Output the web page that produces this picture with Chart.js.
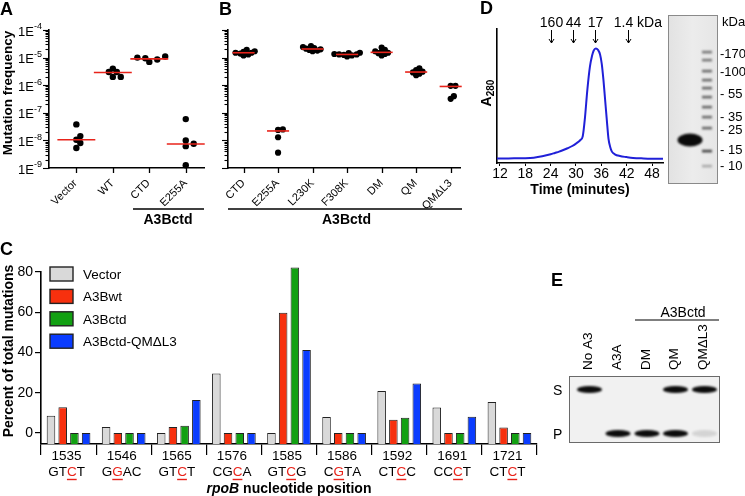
<!DOCTYPE html>
<html><head><meta charset="utf-8">
<script src="https://cdn.jsdelivr.net/npm/chart.js@4.4.0/dist/chart.umd.min.js"></script>
<style>
html,body{margin:0;padding:0;background:#fff;}
#fig{position:relative;width:745px;height:496px;overflow:hidden;background:#fff;}
canvas{position:absolute;}
</style></head><body>
<div id="fig">
<canvas id="cA" width="210" height="230" style="left:0;top:0;width:210px;height:230px"></canvas>
<canvas id="cB" width="265" height="230" style="left:205px;top:0;width:265px;height:230px"></canvas>
<canvas id="cD" width="200" height="200" style="left:470px;top:0;width:200px;height:200px"></canvas>
<canvas id="cC" width="545" height="266" style="left:0;top:230px;width:545px;height:266px"></canvas>
<canvas id="ov" width="745" height="496" style="left:0;top:0;width:745px;height:496px;pointer-events:none"></canvas>
</div>
<script>
// ---------------- DATA ----------------
// Panel A: mutation frequency
const catsA = ['Vector', 'WT', 'CTD', 'E255A'];
const freqVector = [3.8e-8, 1.43e-8, 1.06e-8, 8.0e-9, 5.3e-9];
const freqWT = [4.0e-6, 3.0e-6, 3.0e-6, 2.0e-6, 2.0e-6];
const freqCTD = [1.1e-5, 1.0e-5, 9.5e-6, 8.5e-6, 7.0e-6];
const freqE255A = [5.9e-8, 1.0e-8, 7.6e-9, 6.2e-9, 1.26e-9];
const medianA = [1.06e-8, 2.9e-6, 9.0e-6, 7.4e-9];
// Panel B: A3Bctd mutants
const catsB = ['CTD', 'E255A', 'L230K', 'F308K', 'DM', 'QM', 'QMΔL3'];
const freqB_CTD = [1.2e-5, 1.3e-5, 1.4e-5, 1.5e-5, 1.5e-5, 1.6e-5, 1.7e-5, 1.9e-5];
const freqB_E255A = [2.5e-8, 2.4e-8, 1.3e-8, 3.6e-9];
const freqB_L230K = [1.7e-5, 1.8e-5, 1.9e-5, 2.0e-5, 2.1e-5, 2.2e-5, 2.4e-5, 2.6e-5];
const freqB_F308K = [1.1e-5, 1.2e-5, 1.25e-5, 1.3e-5, 1.3e-5, 1.35e-5, 1.45e-5, 1.5e-5];
const freqB_DM = [1.2e-5, 1.35e-5, 1.45e-5, 1.5e-5, 1.6e-5, 1.7e-5, 1.9e-5, 2.3e-5];
const freqB_QM = [2.3e-6, 2.6e-6, 2.9e-6, 3.1e-6, 3.5e-6, 4.1e-6];
const freqB_QML3 = [9.5e-7, 9.5e-7, 4.0e-7, 3.2e-7];
const medianB = [1.5e-5, 2.2e-8, 2.05e-5, 1.3e-5, 1.55e-5, 3.0e-6, 9.0e-7];
const freqTickExp = [-9, -8, -7, -6, -5, -4];
// Panel C: rpoB mutation spectrum
const rpoPositions = ['1535', '1546', '1565', '1576', '1585', '1586', '1592', '1691', '1721'];
const rpoContexts = ['GTCT', 'GGAC', 'GTCT', 'CGCA', 'GTCG', 'CGTA', 'CTCC', 'CCCT', 'CTCT'];
const mutatedIndex = [2, 1, 2, 2, 2, 1, 2, 2, 2];
const pctVector = [8.6, 3.0, 0, 29.6, 0, 7.9, 20.8, 12.7, 15.4];
const pctA3Bwt = [12.8, 0, 3.0, 0, 59.7, 0, 6.6, 0, 2.7];
const pctA3Bctd = [0, 0, 3.6, 0, 82.2, 0, 7.6, 0, 0];
const pctQML3 = [0, 0, 16.4, 0, 41.2, 0, 24.6, 8.1, 0];
const pctTicks = [0, 20, 40, 60, 80];
// Panel D: gel filtration
const elutionTime = [11.3, 14, 16, 18, 20, 22, 24, 25, 26, 27, 28, 29, 30, 31, 31.6, 32.1, 32.7, 33.3, 33.8, 34.2, 34.7, 35.2, 35.7, 36.1, 36.5, 36.9, 37.3, 37.7, 38.1, 38.5, 39.2, 40.4, 42, 43.5, 46, 48, 50.6];
const a280 = [0.034, 0.034, 0.035, 0.036, 0.040, 0.050, 0.065, 0.075, 0.085, 0.097, 0.11, 0.125, 0.145, 0.17, 0.20, 0.33, 0.55, 0.72, 0.80, 0.84, 0.855, 0.845, 0.81, 0.74, 0.62, 0.47, 0.32, 0.18, 0.12, 0.085, 0.065, 0.052, 0.044, 0.038, 0.034, 0.032, 0.031];
const timeTicks = [12, 18, 24, 30, 36, 42, 48];
const markerTime = [24.2, 29.4, 34.4, 42.3];
const markerLabel = ['160', '44', '17', '1.4'];
const ladderKDa = ['170', '100', '55', '35', '25', '15', '10'];
// Panel E: deamination gel
const laneLabels = ['No A3', 'A3A', 'DM', 'QM', 'QMΔL3'];
const substrateBand = [1, 0, 0, 1, 1];
const productBand = [0, 1, 1, 1, 0.12];

// ---------------- HELPERS ----------------
const FONT = "'Liberation Sans', Arial, Helvetica, sans-serif";
Chart.defaults.font.family = FONT;
Chart.defaults.color = '#000';
const RED = '#e8231a';
const baseOpts = {responsive: false, animation: false, devicePixelRatio: 1, events: [],
  plugins: {legend: {display: false}, tooltip: {enabled: false}}};

function swarm(vals, pxPerDec, D, step) {
  const order = vals.map((v, i) => i).sort((a, b) => vals[a] - vals[b]);
  const placed = [], off = new Array(vals.length).fill(0);
  for (const i of order) {
    const y = Math.log10(vals[i]) * pxPerDec;
    for (let k = 0; k < 60; k++) {
      const c = k === 0 ? 0 : (k % 2 ? 1 : -1) * Math.ceil(k / 2) * step;
      if (placed.every(p => Math.hypot(p.x - c, p.y - y) >= D)) { off[i] = c; placed.push({x: c, y}); break; }
    }
  }
  return off;
}

function swarmPanel(cfg) {
  const pts = [];
  cfg.groups.forEach((vals, i) => {
    const off = swarm(vals, 27.6, cfg.D, cfg.step);
    vals.forEach((v, j) => pts.push({x: i + off[j] / cfg.pxPerCat, y: v}));
  });
  const meds = cfg.medians.map((m, i) => ({data: [{x: i - cfg.halfW, y: m}, {x: i + cfg.halfW, y: m}],
    showLine: true, borderColor: RED, borderWidth: 1.6, pointRadius: 0, clip: false}));
  const dots = {data: pts, pointRadius: cfg.r, backgroundColor: '#000', borderWidth: 0, clip: false};
  new Chart(document.getElementById(cfg.id), {
    type: 'scatter',
    data: {datasets: [...meds, dots]},
    options: {...baseOpts,
      layout: {padding: {top: 30, right: cfg.padRight, left: 0, bottom: 0}},
      scales: {
        x: {type: 'linear', min: cfg.xmin, max: cfg.xmax, afterFit: s => { s.height = 62; },
          ticks: {display: false}, grid: {display: false}, border: {display: true, color: '#000', width: 1.6}},
        y: {type: 'logarithmic', min: 1e-9, max: 1e-4, afterFit: s => { s.width = cfg.yW; },
          ticks: {display: false}, grid: {display: false}, border: {display: true, color: '#000', width: 1.6}}
      }
    },
    plugins: [{id: 'deco' + cfg.id, afterDraw(chart) {
      const ctx = chart.ctx, ys = chart.scales.y, xs = chart.scales.x, ca = chart.chartArea;
      ctx.save();
      ctx.strokeStyle = '#000'; ctx.fillStyle = '#000'; ctx.lineWidth = 1.1;
      freqTickExp.forEach(e => {
        for (let m = 1; m <= 9; m++) {
          if (e === freqTickExp[freqTickExp.length - 1] && m > 1) break;
          const py = Math.round(ys.getPixelForValue(m * Math.pow(10, e))) + 0.5;
          const len = m === 1 ? 6 : 3.5;
          ctx.beginPath(); ctx.moveTo(ca.left - len, py); ctx.lineTo(ca.left, py); ctx.stroke();
        }
        if (cfg.yLabels) {
          const py = ys.getPixelForValue(Math.pow(10, e));
          ctx.font = '13px ' + FONT; const w1 = ctx.measureText('1E').width;
          ctx.font = '9px ' + FONT; const sup = '-' + Math.abs(e); const w2 = ctx.measureText(sup).width;
          const x0 = ca.left - 7 - w1 - w2;
          ctx.textBaseline = 'middle'; ctx.textAlign = 'left';
          ctx.font = '13px ' + FONT; ctx.fillText('1E', x0, py + 2);
          ctx.font = '9px ' + FONT; ctx.fillText(sup, x0 + w1, py - 3);
        }
      });
      ctx.lineWidth = 1.3;
      cfg.cats.forEach((c, i) => {
        const px = Math.round(xs.getPixelForValue(i)) + 0.5;
        ctx.beginPath(); ctx.moveTo(px, ca.bottom); ctx.lineTo(px, ca.bottom + 5); ctx.stroke();
        ctx.save(); ctx.translate(px - 1, ca.bottom + 13.5); ctx.rotate(-Math.PI / 4);
        ctx.font = '11px ' + FONT; ctx.textAlign = 'right'; ctx.textBaseline = 'middle';
        ctx.fillText(c, 0, 0); ctx.restore();
      });
      // bracket
      const b = cfg.bracket;
      ctx.lineWidth = 1.5;
      ctx.beginPath(); ctx.moveTo(b.x1, 209); ctx.lineTo(b.x2, 209); ctx.stroke();
      ctx.font = 'bold 14px ' + FONT; ctx.textAlign = 'center'; ctx.textBaseline = 'middle';
      ctx.fillText('A3Bctd', b.tx, 220.5);
      if (cfg.yTitle) {
        ctx.save(); ctx.translate(12, 93); ctx.rotate(-Math.PI / 2);
        ctx.font = 'bold 13.5px ' + FONT; ctx.textAlign = 'center'; ctx.textBaseline = 'alphabetic';
        ctx.fillText(cfg.yTitle, 0, 0); ctx.restore();
      }
      ctx.restore();
    }}]
  });
}

swarmPanel({id: 'cA', cats: catsA, groups: [freqVector, freqWT, freqCTD, freqE255A], medians: medianA,
  xmin: -0.75, xmax: 3.5, yW: 49, padRight: 6, pxPerCat: 36.7, halfW: 0.52, D: 5.2, step: 4, r: 3.2,
  yLabels: true, yTitle: 'Mutation frequency', bracket: {x1: 133, x2: 204, tx: 168}});
swarmPanel({id: 'cB', cats: catsB, groups: [freqB_CTD, freqB_E255A, freqB_L230K, freqB_F308K, freqB_DM, freqB_QM, freqB_QML3],
  medians: medianB, xmin: -0.45, xmax: 6.27, yW: 23, padRight: 10, pxPerCat: 34.6, halfW: 0.32, D: 3.4, step: 1.6, r: 3.1,
  yLabels: false, yTitle: null, bracket: {x1: 23, x2: 257, tx: 141.5}});

// ---------------- PANEL C ----------------
new Chart(document.getElementById('cC'), {
  type: 'bar',
  data: {labels: rpoPositions, datasets: [
    {label: 'Vector', data: pctVector, backgroundColor: '#d9d9d9'},
    {label: 'A3Bwt', data: pctA3Bwt, backgroundColor: '#f7300e'},
    {label: 'A3Bctd', data: pctA3Bctd, backgroundColor: '#12a012'},
    {label: 'A3Bctd-QMΔL3', data: pctQML3, backgroundColor: '#0a3cff'}
  ].map(d => Object.assign(d, {borderColor: '#222', borderWidth: 1, base: -5.5, clip: false,
      categoryPercentage: 0.85, barPercentage: 0.73}))},
  options: {...baseOpts,
    layout: {padding: {top: 42, right: 8, left: 0, bottom: 0}},
    scales: {
      x: {afterFit: s => { s.height = 52; }, ticks: {display: false},
        grid: {display: true, drawOnChartArea: false, offset: true, drawTicks: true, tickLength: 11, color: '#000', lineWidth: 1.2},
        border: {display: true, color: '#000', width: 1.6}},
      y: {min: -5.5, max: 80, afterFit: s => { s.width = 41; },
        afterBuildTicks: s => { s.ticks = pctTicks.map(v => ({value: v})); },
        ticks: {font: {size: 14}, color: '#000', padding: 2},
        grid: {display: true, drawOnChartArea: false, tickLength: 6, color: '#000', lineWidth: 1.2},
        border: {display: true, color: '#000', width: 1.6}}
    }
  },
  plugins: [{id: 'decoC', afterDraw(chart) {
    const ctx = chart.ctx, xs = chart.scales.x, ca = chart.chartArea;
    ctx.save(); ctx.fillStyle = '#000'; ctx.strokeStyle = '#000';
    // legend
    chart.data.datasets.forEach((d, i) => {
      const top = 37 + i * 22.4;
      ctx.fillStyle = d.backgroundColor; ctx.fillRect(50, top, 23, 14);
      ctx.lineWidth = 1.4; ctx.strokeStyle = '#222'; ctx.strokeRect(50, top, 23, 14);
      ctx.fillStyle = '#000'; ctx.font = '13.5px ' + FONT; ctx.textAlign = 'left'; ctx.textBaseline = 'alphabetic';
      ctx.fillText(d.label, 83, top + 12);
    });
    // x labels
    rpoPositions.forEach((p, i) => {
      const cx = xs.getPixelForValue(i);
      ctx.font = '13.5px ' + FONT; ctx.textAlign = 'center'; ctx.textBaseline = 'middle'; ctx.fillStyle = '#000';
      ctx.fillText(p, cx - 2, 226.5);
      const seq = rpoContexts[i];
      const w = ctx.measureText(seq).width;
      let x = cx - 2 - w / 2;
      ctx.textAlign = 'left';
      for (let k = 0; k < seq.length; k++) {
        const cw = ctx.measureText(seq[k]).width;
        ctx.fillStyle = k === mutatedIndex[i] ? '#e8231a' : '#000';
        ctx.fillText(seq[k], x, 242.5);
        if (k === mutatedIndex[i]) {
          ctx.strokeStyle = '#e8231a'; ctx.lineWidth = 1.4;
          ctx.beginPath(); ctx.moveTo(x, 249.5); ctx.lineTo(x + cw, 249.5); ctx.stroke();
        }
        x += cw;
      }
    });
    // x title
    const midX = (ca.left + ca.right) / 2;
    ctx.fillStyle = '#000'; ctx.textBaseline = 'middle';
    ctx.font = 'italic bold 14px ' + FONT; const w1 = ctx.measureText('rpoB').width;
    ctx.font = 'bold 14px ' + FONT; const w2 = ctx.measureText(' nucleotide position').width;
    let sx = midX - (w1 + w2) / 2; ctx.textAlign = 'left';
    ctx.font = 'italic bold 14px ' + FONT; ctx.fillText('rpoB', sx, 259);
    ctx.font = 'bold 14px ' + FONT; ctx.fillText(' nucleotide position', sx + w1, 259);
    // y title
    ctx.save(); ctx.translate(13, 121); ctx.rotate(-Math.PI / 2);
    ctx.font = 'bold 14px ' + FONT; ctx.textAlign = 'center'; ctx.textBaseline = 'alphabetic';
    ctx.fillText('Percent of total mutations', 0, 0); ctx.restore();
    ctx.restore();
  }}]
});

// ---------------- PANEL D ----------------
new Chart(document.getElementById('cD'), {
  type: 'line',
  data: {datasets: [{data: elutionTime.map((t, i) => ({x: t, y: a280[i]})), borderColor: '#2020d8', borderWidth: 2,
    pointRadius: 0, cubicInterpolationMode: 'monotone', fill: false}]},
  options: {...baseOpts,
    layout: {padding: {top: 29, right: 7, left: 0, bottom: 0}},
    scales: {
      x: {type: 'linear', min: 11.3, max: 50.6, afterFit: s => { s.height = 37; },
        afterBuildTicks: s => { s.ticks = timeTicks.map(v => ({value: v})); },
        ticks: {font: {size: 14}, color: '#000', padding: 0, maxRotation: 0, autoSkip: false},
        grid: {display: true, drawOnChartArea: false, tickLength: 3, color: '#000'},
        border: {display: true, color: '#000', width: 1.6}},
      y: {min: 0, max: 1, afterFit: s => { s.width = 27; }, ticks: {display: false}, grid: {display: false},
        border: {display: true, color: '#000', width: 1.6}}
    }
  },
  plugins: [{id: 'decoD', afterDraw(chart) {
    const ctx = chart.ctx, xs = chart.scales.x, ca = chart.chartArea;
    ctx.save(); ctx.fillStyle = '#000'; ctx.strokeStyle = '#000'; ctx.lineWidth = 1;
    ctx.font = '14px ' + FONT; ctx.textBaseline = 'alphabetic';
    markerTime.forEach((t, i) => {
      const px = Math.round(xs.getPixelForValue(t)) + 0.5;
      ctx.beginPath(); ctx.moveTo(px, 30); ctx.lineTo(px, 43); ctx.stroke();
      ctx.beginPath(); ctx.moveTo(px - 2.5, 39); ctx.lineTo(px, 43); ctx.lineTo(px + 2.5, 39); ctx.stroke();
      const last = i === markerTime.length - 1;
      if (!last) { ctx.textAlign = 'center'; ctx.fillText(markerLabel[i], px, 27); }
      else { ctx.textAlign = 'left'; const w = ctx.measureText(markerLabel[i]).width; ctx.fillText(markerLabel[i] + ' kDa', px - w / 2 - 5, 27); }
    });
    // y title A280
    ctx.save(); ctx.translate(21, 93); ctx.rotate(-Math.PI / 2);
    ctx.font = 'bold 14px ' + FONT; const wA = ctx.measureText('A').width;
    ctx.font = 'bold 10px ' + FONT; const wS = ctx.measureText('280').width;
    const s0 = -(wA + wS) / 2; ctx.textAlign = 'left';
    ctx.font = 'bold 14px ' + FONT; ctx.fillText('A', s0, 0);
    ctx.font = 'bold 10px ' + FONT; ctx.fillText('280', s0 + wA, 3);
    ctx.restore();
    ctx.font = 'bold 14px ' + FONT; ctx.textAlign = 'center'; ctx.textBaseline = 'middle';
    ctx.fillText('Time (minutes)', (ca.left + ca.right) / 2, 190);
    ctx.restore();
  }}]
});

// ---------------- OVERLAY: panel letters, gels, panel E text ----------------
(function () {
  const g = document.getElementById('ov').getContext('2d');
  g.fillStyle = '#000'; g.font = 'bold 18px ' + FONT; g.textBaseline = 'alphabetic'; g.textAlign = 'left';
  g.fillText('A', 0, 15); g.fillText('B', 219, 15); g.fillText('C', 0, 255); g.fillText('D', 480, 14); g.fillText('E', 551, 286);

  // Gel D (SDS-PAGE)
  const grd = g.createLinearGradient(668, 0, 717, 0);
  grd.addColorStop(0, '#e2e2e2'); grd.addColorStop(0.5, '#ececec'); grd.addColorStop(1, '#e6e6e6');
  g.fillStyle = grd; g.fillRect(668, 15, 49, 168);
  g.strokeStyle = '#8a8a8a'; g.lineWidth = 1; g.strokeRect(668.5, 15.5, 49, 168);
  g.save(); g.filter = 'blur(1.2px)';
  g.fillStyle = '#0b0b0b'; g.beginPath(); g.ellipse(690, 140, 12.5, 6.5, 0, 0, Math.PI * 2); g.fill();
  const ladY = [52, 60, 71, 80, 88, 97, 107, 117, 128, 151, 166];
  const ladC = ['#777', '#777', '#6a6a6a', '#6a6a6a', '#666', '#666', '#666', '#6a6a6a', '#666', '#444', '#aaa'];
  ladY.forEach((y, i) => { g.fillStyle = ladC[i]; g.fillRect(702, y - 1.2, 10, 2.6); });
  g.restore();
  g.fillStyle = '#000'; g.font = '13px ' + FONT; g.textAlign = 'left'; g.textBaseline = 'middle';
  g.fillText('kDa', 722, 22);
  const ladLabY = [54, 72, 94, 117, 130, 150, 166];
  ladderKDa.forEach((k, i) => g.fillText((k.length === 2 ? '- ' : '-') + k, 720, ladLabY[i]));

  // Gel E (deamination)
  g.fillStyle = '#f1f1f1'; g.fillRect(569, 376, 150, 66);
  g.strokeStyle = '#6a6a6a'; g.lineWidth = 1; g.strokeRect(569.5, 376.5, 150, 66);
  const laneX = [589.5, 618, 647, 675.5, 704.5];
  g.save(); g.filter = 'blur(0.9px)';
  laneLabels.forEach((l, i) => {
    const s = substrateBand[i], p = productBand[i];
    if (s > 0) { g.globalAlpha = s; g.fillStyle = '#0c0c0c'; g.beginPath(); g.ellipse(laneX[i], 389.5, 12.5, 3.6, 0, 0, Math.PI * 2); g.fill(); }
    if (p > 0) { g.globalAlpha = p; g.fillStyle = '#0c0c0c'; g.beginPath(); g.ellipse(laneX[i], 433.5, 12.5, 3.6, 0, 0, Math.PI * 2); g.fill(); }
  });
  g.restore();
  g.fillStyle = '#000'; g.font = '13.5px ' + FONT;
  laneLabels.forEach((l, i) => {
    g.save(); g.translate(laneX[i] - 1, 370); g.rotate(-Math.PI / 2);
    g.textAlign = 'left'; g.textBaseline = 'middle'; g.fillText(l, 0, 0); g.restore();
  });
  g.strokeStyle = '#000'; g.lineWidth = 1.2;
  g.beginPath(); g.moveTo(635, 320); g.lineTo(719, 320); g.stroke();
  g.font = '14px ' + FONT; g.textAlign = 'center'; g.textBaseline = 'alphabetic';
  g.fillText('A3Bctd', 683, 317);
  g.textAlign = 'left';
  g.fillText('S', 553, 395); g.fillText('P', 553, 439);
})();
</script>
</body></html>
